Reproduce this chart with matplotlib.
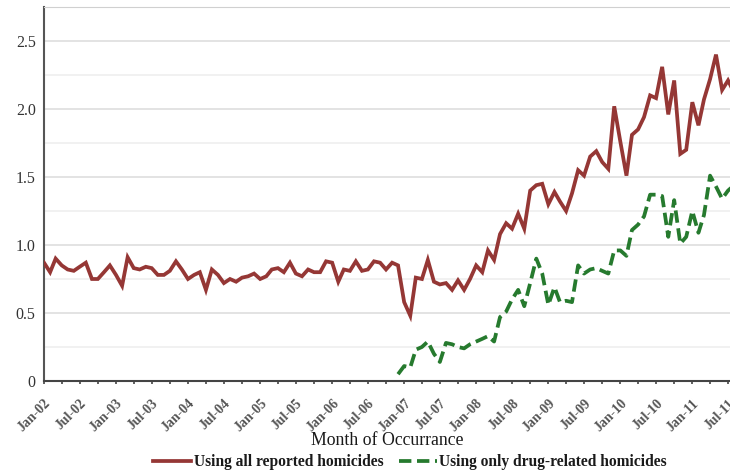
import numpy as np
import pandas as pd
import matplotlib
matplotlib.use("Agg")
import matplotlib.pyplot as plt
import matplotlib.dates as mdates
from matplotlib.ticker import MultipleLocator

# monthly rate, Jan-02 .. Aug-11
all_homicides = [
    0.87, 0.80, 0.90, 0.85, 0.82, 0.81, 0.84, 0.87, 0.75, 0.75,
    0.80, 0.85, 0.78, 0.70, 0.91, 0.83, 0.82, 0.84, 0.83, 0.78,
    0.78, 0.81, 0.88, 0.82, 0.75, 0.78, 0.80, 0.67, 0.82, 0.78,
    0.72, 0.75, 0.73, 0.76, 0.77, 0.79, 0.75, 0.77, 0.82, 0.83,
    0.80, 0.87, 0.79, 0.77, 0.82, 0.80, 0.80, 0.88, 0.87, 0.73,
    0.82, 0.81, 0.88, 0.81, 0.82, 0.88, 0.87, 0.82, 0.87, 0.85,
    0.58, 0.48, 0.76, 0.75, 0.89, 0.73, 0.71, 0.72, 0.67, 0.74,
    0.67, 0.75, 0.85, 0.80, 0.96, 0.89, 1.08, 1.16, 1.12, 1.23,
    1.12, 1.40, 1.44, 1.45, 1.30, 1.39, 1.32, 1.25, 1.38, 1.55,
    1.51, 1.65, 1.69, 1.61, 1.56, 2.02, 1.76, 1.51, 1.81, 1.85,
    1.94, 2.10, 2.08, 2.31, 1.96, 2.21, 1.67, 1.70, 2.05, 1.88,
    2.07, 2.22, 2.40, 2.14, 2.21, 2.12,
]

# drug-related series only starts in Dec-06
drug_homicides = [None] * 59 + [
    0.05, 0.11, 0.10, 0.23, 0.25, 0.29, 0.20, 0.14, 0.28, 0.27,
    0.25, 0.24, 0.27, 0.29, 0.31, 0.33, 0.29, 0.47, 0.51, 0.60,
    0.67, 0.55, 0.72, 0.90, 0.79, 0.56, 0.69, 0.58, 0.59, 0.58,
    0.85, 0.79, 0.82, 0.83, 0.81, 0.79, 0.96, 0.96, 0.92, 1.11,
    1.15, 1.21, 1.37, 1.37, 1.36, 1.06, 1.33, 1.01, 1.06, 1.25,
    1.09, 1.22, 1.51, 1.43, 1.34, 1.40, 1.44,
]

months = pd.date_range("2002-01-01", periods=len(all_homicides), freq="MS")
y_ticks = [0, 0.5, 1.0, 1.5, 2.0, 2.5]
y_tick_labels = ["0", "0.5", "1.0", "1.5", "2.0", "2.5"]

plt.rcParams["font.family"] = ["Liberation Serif", "DejaVu Serif"]

fig = plt.figure(figsize=(7.3, 4.74), dpi=100)
ax = fig.add_axes([44 / 730, 1 - 381 / 474, 1 - 44 / 730, (381 - 7) / 474])

red = "#953735"
green = "#267a2e"

drug = np.array([np.nan if v is None else v for v in drug_homicides])

ax.plot(months, all_homicides, color=red, lw=2.7, solid_joinstyle="miter",
        label="Using all reported homicides", zorder=3)
ax.plot(months, drug, color=green, lw=2.7, dashes=(3.3, 1.5),
        label="Using only drug-related homicides", zorder=3)

ax.set_ylim(0, 2.75)
ax.set_xlim(months[0], pd.Timestamp("2011-07-11"))

ax.set_yticks(y_ticks)
ax.set_yticklabels(y_tick_labels)
ax.yaxis.set_minor_locator(MultipleLocator(0.25))
ax.grid(axis="y", which="major", color="#e3e3e3", lw=1.4)
ax.grid(axis="y", which="minor", color="#f1f1f1", lw=1.4)
ax.set_axisbelow(True)

ax.xaxis.set_major_locator(mdates.MonthLocator(bymonth=[1, 7]))
ax.xaxis.set_minor_locator(mdates.MonthLocator(bymonth=[4, 10]))
ax.xaxis.set_major_formatter(mdates.DateFormatter("%b-%y"))
ax.tick_params(axis="x", which="both", length=2.5, width=1.2, color="#444",
               direction="out")
ax.tick_params(axis="x", which="major", labelsize=10, labelcolor="#555",
               pad=9)
ax.tick_params(axis="y", which="both", length=0, labelsize=11.5,
               labelcolor="#333", pad=6)
for lbl in ax.get_xticklabels():
    lbl.set_rotation(45)
    lbl.set_ha("right")
    lbl.set_rotation_mode("anchor")
    lbl.set_fontweight("bold")

ax.spines["right"].set_visible(False)
ax.spines["top"].set_color("#d0d0d0")
ax.spines["left"].set_color("#555")
ax.spines["left"].set_linewidth(1.5)
ax.spines["bottom"].set_color("#444")
ax.spines["bottom"].set_linewidth(1.5)

ax.set_xlabel("Month of Occurrance", fontsize=12.8, color="#1a1a1a")
ax.xaxis.set_label_coords(0.5, -0.137)

fig.legend(loc="center", bbox_to_anchor=(410 / 730, 1 - 462 / 474), ncol=2,
           frameon=False, prop={"weight": "bold", "size": 11.2},
           handlelength=2.45, handletextpad=0.15, columnspacing=1.0,
           labelcolor="#1a1a1a")

fig.savefig("out.png", dpi=100)
